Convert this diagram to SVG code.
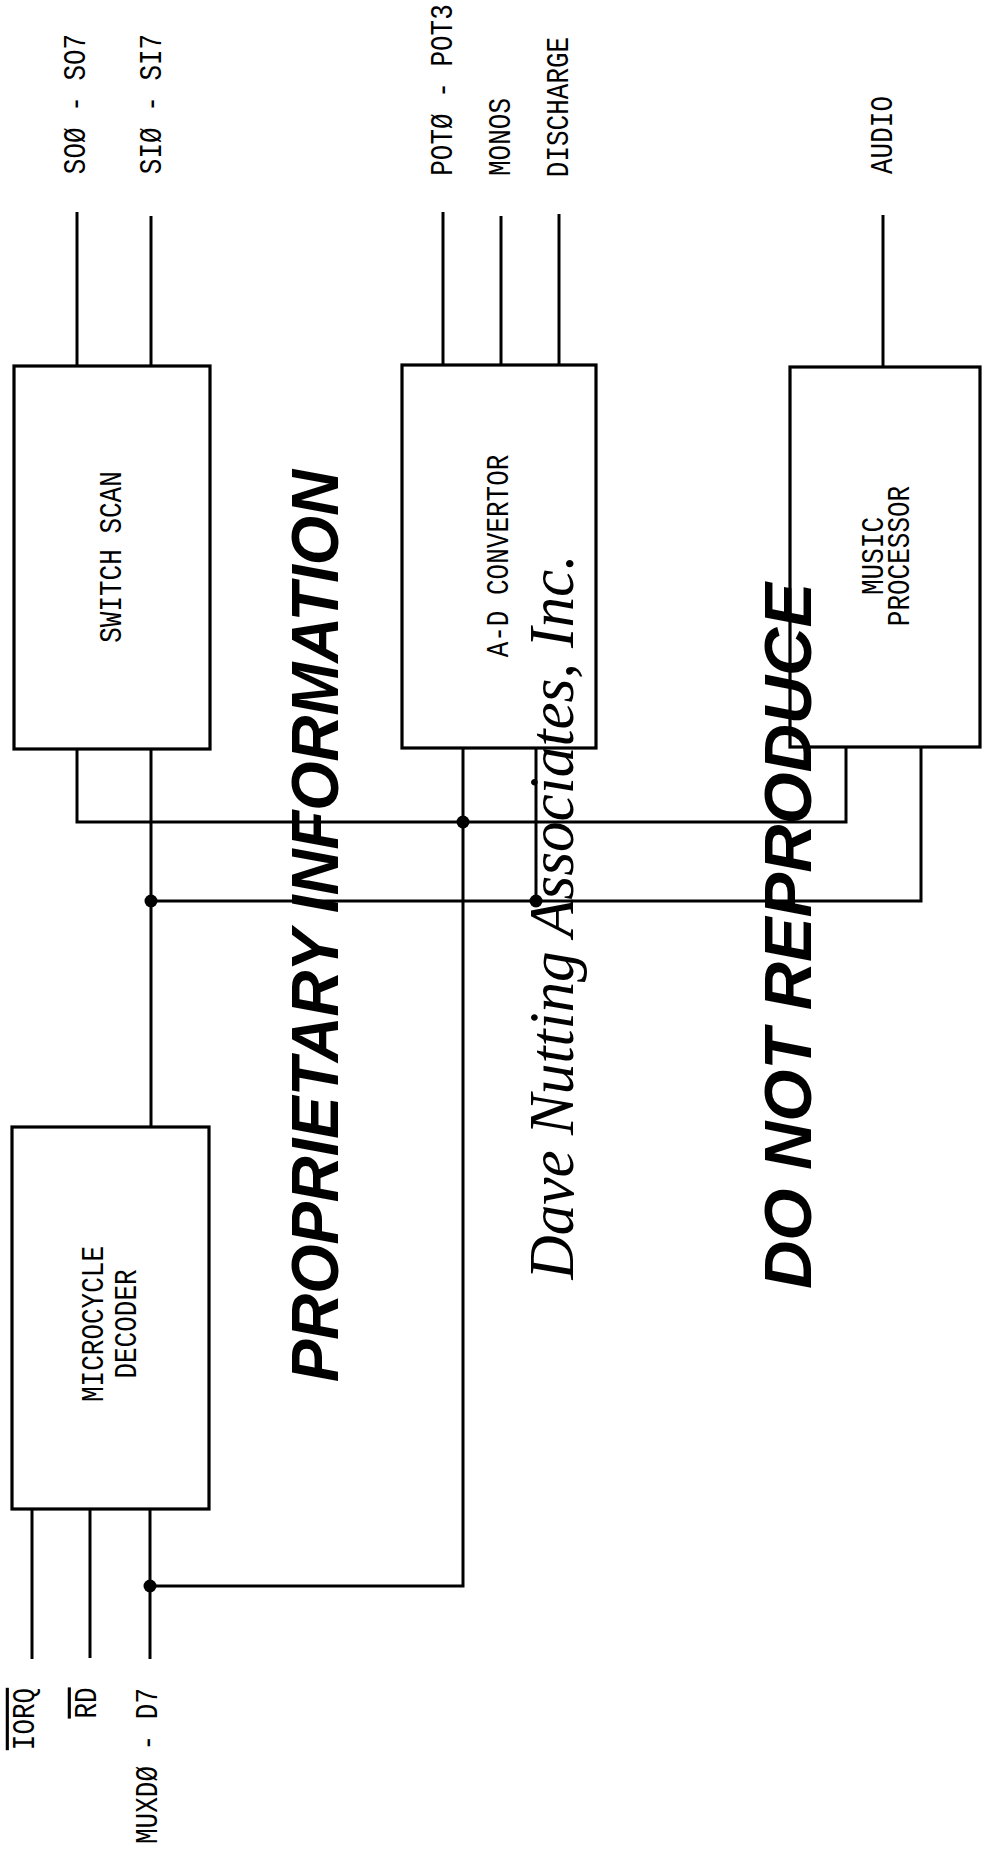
<svg xmlns="http://www.w3.org/2000/svg" width="986" height="1849" viewBox="0 0 986 1849">
<style>
.box{fill:none;stroke:#000;stroke-width:3.2}
.wire{fill:none;stroke:#000;stroke-width:3;stroke-linejoin:miter}
.dot{fill:#000}
.lbl{font-family:"Liberation Mono","DejaVu Sans Mono",monospace;font-size:26px;fill:#000;text-anchor:middle}
.wm{font-family:"Liberation Sans",Arial,sans-serif;font-weight:bold;font-style:italic;font-size:66px;fill:#000;text-anchor:middle}
.script{font-family:"Liberation Serif","DejaVu Serif",serif;font-style:italic;font-size:64px;fill:#000;text-anchor:middle}
</style>
<rect x="0" y="0" width="986" height="1849" fill="#fff"/>

<g id="watermark">
<text class="wm" transform="translate(338,926) rotate(-90)" textLength="912" lengthAdjust="spacingAndGlyphs">PROPRIETARY  INFORMATION</text>
<text class="script" transform="translate(573,917) rotate(-90)" textLength="725" lengthAdjust="spacingAndGlyphs">Dave Nutting Associates, Inc.</text>
<text class="wm" transform="translate(811,936) rotate(-90)" textLength="706" lengthAdjust="spacingAndGlyphs">DO  NOT  REPRODUCE</text>
</g>

<g id="connectors">
<polyline class="wire" points="77,212 77,366"/>
<polyline class="wire" points="151,216 151,366"/>
<polyline class="wire" points="443,212 443,365"/>
<polyline class="wire" points="501,216 501,365"/>
<polyline class="wire" points="559,214 559,365"/>
<polyline class="wire" points="883,215 883,367"/>
<polyline class="wire" points="77,749 77,822 846,822 846,747"/>
<polyline class="wire" points="151,749 151,1127"/>
<polyline class="wire" points="151,901 921,901 921,747"/>
<polyline class="wire" points="463,748 463,1586 150,1586"/>
<polyline class="wire" points="536,748 536,901"/>
<polyline class="wire" points="32,1509 32,1659"/>
<polyline class="wire" points="90,1509 90,1658"/>
<polyline class="wire" points="150,1509 150,1659"/>
<circle class="dot" cx="151" cy="901" r="6.5"/>
<circle class="dot" cx="463" cy="822" r="6.5"/>
<circle class="dot" cx="536" cy="901" r="6.5"/>
<circle class="dot" cx="150" cy="1586" r="6.5"/>
</g>

<g id="signal-labels">
<text class="lbl" transform="translate(85,104) rotate(-90) scale(1,1.2)">SOØ - SO7</text>
<text class="lbl" transform="translate(161,104) rotate(-90) scale(1,1.2)">SIØ - SI7</text>
<text class="lbl" transform="translate(452,90) rotate(-90) scale(1,1.2)">POTØ - POT3</text>
<text class="lbl" transform="translate(510,137) rotate(-90) scale(1,1.2)">MONOS</text>
<text class="lbl" transform="translate(568,107) rotate(-90) scale(1,1.2)">DISCHARGE</text>
<text class="lbl" transform="translate(892,135) rotate(-90) scale(1,1.2)">AUDIO</text>
<text class="lbl" transform="translate(34,1719) rotate(-90) scale(1,1.2)" style="text-decoration:overline">IORQ</text>
<text class="lbl" transform="translate(96,1703) rotate(-90) scale(1,1.2)" style="text-decoration:overline">RD</text>
<text class="lbl" transform="translate(157,1766) rotate(-90) scale(1,1.2)">MUXDØ - D7</text>
</g>

<g id="node-switch-scan">
<rect class="box" x="14" y="366" width="196" height="383"/>
<text class="lbl" transform="translate(121,557) rotate(-90) scale(1,1.2)">SWITCH SCAN</text>
</g>

<g id="node-ad-convertor">
<rect class="box" x="402" y="365" width="194" height="383"/>
<text class="lbl" transform="translate(508,556) rotate(-90) scale(1,1.2)">A-D CONVERTOR</text>
</g>

<g id="node-music-processor">
<rect class="box" x="790" y="367" width="190" height="380"/>
<text class="lbl" transform="translate(883,556) rotate(-90) scale(1,1.2)">MUSIC</text>
<text class="lbl" transform="translate(909,556) rotate(-90) scale(1,1.2)">PROCESSOR</text>
</g>

<g id="node-microcycle-decoder">
<rect class="box" x="12" y="1127" width="197" height="382"/>
<text class="lbl" transform="translate(103,1324) rotate(-90) scale(1,1.2)">MICROCYCLE</text>
<text class="lbl" transform="translate(136,1324) rotate(-90) scale(1,1.2)">DECODER</text>
</g>
</svg>
